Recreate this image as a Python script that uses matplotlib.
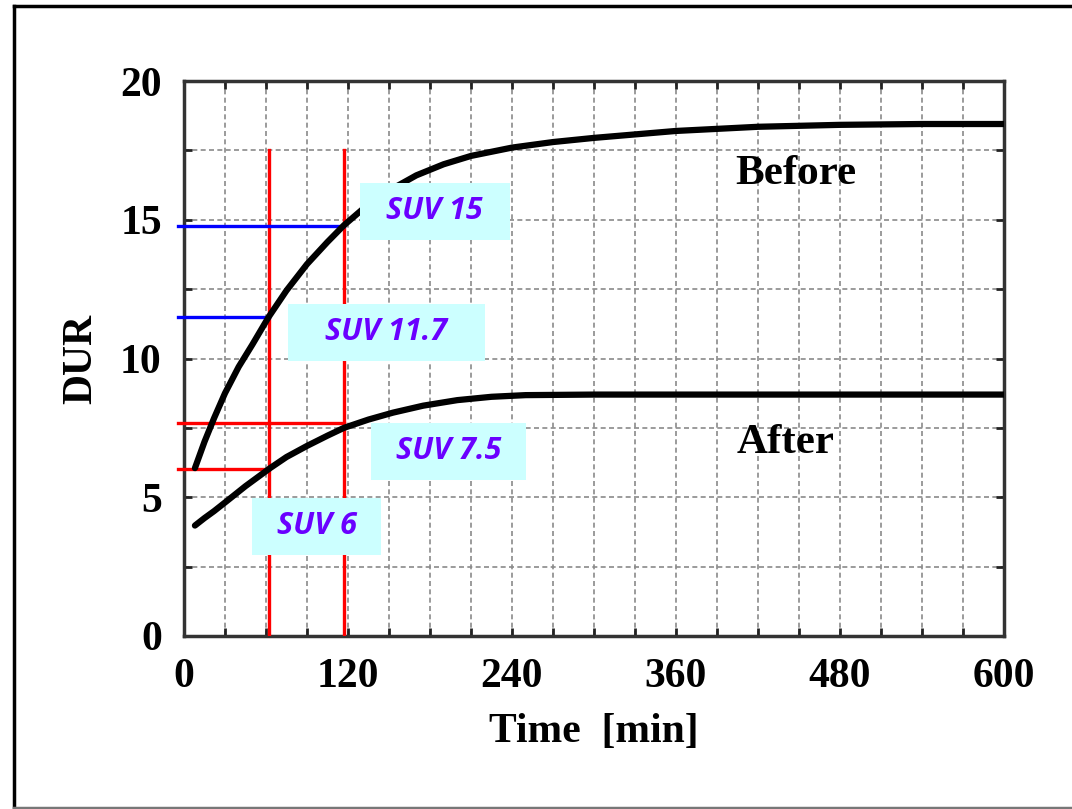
import matplotlib.pyplot as plt
from matplotlib.lines import Line2D
from matplotlib.ticker import MultipleLocator

# data
before_t = [8, 15, 22, 30, 40, 50, 62, 75, 90, 105, 117, 130, 150, 170, 190, 210, 240, 270, 300, 360, 420, 480, 540, 600]
before_v = [6.05, 7.0, 7.85, 8.75, 9.7, 10.5, 11.5, 12.45, 13.4, 14.2, 14.8, 15.35, 16.05, 16.6, 17.0, 17.3, 17.6, 17.8, 17.95, 18.2, 18.35, 18.42, 18.45, 18.45]
after_t = [8, 15, 22, 31, 45, 63, 75, 90, 105, 117, 135, 153, 175, 200, 225, 250, 300, 600]
after_v = [3.98, 4.25, 4.5, 4.85, 5.4, 6.05, 6.45, 6.85, 7.22, 7.5, 7.8, 8.05, 8.3, 8.5, 8.62, 8.68, 8.7, 8.7]

mark_times = [62, 117]
blue_levels = [14.78, 11.48]
red_levels = [7.68, 6.03]
red_ends = [117, 62]
blue_ends = [117, 62]

suv_labels = ['SUV 15', 'SUV 11.7', 'SUV 7.5', 'SUV 6']
suv_x = [183.5, 148, 193.5, 97]
suv_y = [15.3, 10.95, 6.65, 3.95]
suv_w = [109.5, 144, 114, 95]

fig = plt.figure(figsize=(10.72, 8.09), dpi=100)
ax = fig.add_axes([184 / 1072, 1 - 636 / 809, 820 / 1072, 555 / 809])

ax.set_xlim(0, 600)
ax.set_ylim(0, 20)

# grid
ax.xaxis.set_major_locator(MultipleLocator(120))
ax.xaxis.set_minor_locator(MultipleLocator(30))
ax.yaxis.set_major_locator(MultipleLocator(5))
ax.yaxis.set_minor_locator(MultipleLocator(2.5))
ax.grid(True, which='both', color='#8a8a8a', linestyle=(0, (3, 2)), linewidth=1.2)
ax.set_axisbelow(True)
ax.tick_params(which='both', direction='in', top=True, right=True, length=6, width=2, color='#222222')
ax.tick_params(which='major', pad=16)
for s in ax.spines.values():
    s.set_linewidth(2.5)
    s.set_color('#333333')

serif = ['Liberation Serif', 'DejaVu Serif']
for lab in ax.get_xticklabels() + ax.get_yticklabels():
    lab.set_fontfamily(serif)
    lab.set_fontweight('bold')
    lab.set_fontsize(30)

# red / blue guide lines
for t in mark_times:
    ax.plot([t, t], [0, 17.5], color='#ff0000', linewidth=2.4, zorder=3)
for v, e in zip(blue_levels, blue_ends):
    ax.plot([-4.5, e], [v, v], color='#0000ff', linewidth=2.4, zorder=3, clip_on=False)
for v, e in zip(red_levels, red_ends):
    ax.plot([-4.5, e], [v, v], color='#ff0000', linewidth=2.4, zorder=3, clip_on=False)

# curves
ax.plot(before_t, before_v, color='black', linewidth=4.5, solid_capstyle='round',
        solid_joinstyle='round', zorder=4)
ax.plot(after_t, after_v, color='black', linewidth=4.5, solid_capstyle='round',
        solid_joinstyle='round', zorder=4)

# SUV boxes
for lab, x, y, w in zip(suv_labels, suv_x, suv_y, suv_w):
    ax.add_patch(plt.Rectangle((x - w / 2, y - 1.03), w, 2.06, facecolor='#ccffff', edgecolor='none', zorder=5))
    ax.text(x, y, lab, ha='center', va='center', fontsize=22, fontweight='bold', fontstyle='italic',
            family=['Open Sans', 'DejaVu Sans'], color='#6a00ff', zorder=6)

ax.text(448, 16.65, 'Before', ha='center', va='center', fontsize=31, fontweight='bold', family=serif)
ax.text(440, 6.95, 'After', ha='center', va='center', fontsize=31, fontweight='bold', family=serif)

ax.set_xlabel('Time  [min]', fontsize=30, fontweight='bold', family=serif, labelpad=12)
ax.set_ylabel('DUR', fontsize=30, fontweight='bold', family=serif, labelpad=14)

# outer frame
fig.add_artist(Line2D([14 / 1072, 14 / 1072], [0, 1 - 6 / 809], color='black', linewidth=2.5))
fig.add_artist(Line2D([14 / 1072, 1], [1 - 6 / 809, 1 - 6 / 809], color='black', linewidth=2.5))
fig.add_artist(Line2D([14 / 1072, 1], [1.5 / 809, 1.5 / 809], color='#777777', linewidth=2.5))

fig.savefig('out.png', dpi=100)
